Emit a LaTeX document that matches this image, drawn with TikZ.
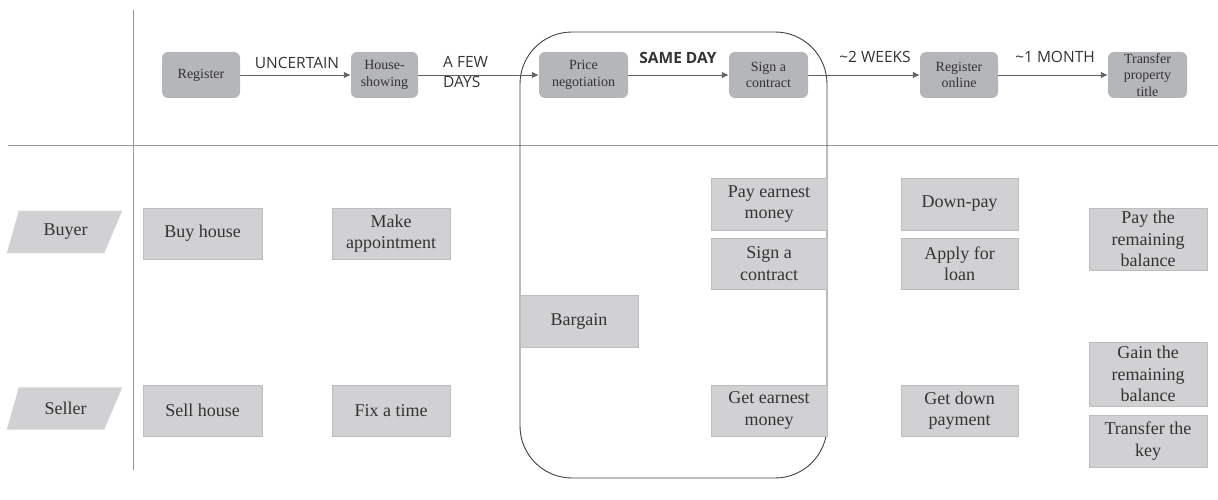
\documentclass[tikz,border=0pt]{standalone}
\usepackage{fontspec}
\setmainfont{Liberation Serif}
\newfontfamily\serifbox{Liberation Serif}
\newfontfamily\lblfont{Open Sans}
\usetikzlibrary{arrows.meta}
\definecolor{topfill}{HTML}{B5B6B9}
\definecolor{lowfill}{HTML}{D1D1D3}
\definecolor{lowline}{HTML}{BDBDBD}
\definecolor{txt}{HTML}{333333}
\definecolor{lineg}{HTML}{606060}
\begin{document}
\begin{tikzpicture}[x=1pt,y=-1pt,
  topbox/.style={fill=topfill, rounded corners=6pt, minimum width=78pt, minimum height=46pt, inner sep=1pt, align=center, text=txt, font=\serifbox\fontsize{14}{16.5}\selectfont},
  lowbox/.style={fill=lowfill, draw=lowline, line width=0.8pt, minimum width=117pt, minimum height=51pt, inner sep=1pt, align=center, text=txt, font=\serifbox\fontsize{18}{21.5}\selectfont},
  lane/.style={minimum width=105pt, minimum height=42pt, inner sep=0pt, text=txt, font=\serifbox\fontsize{18}{20}\selectfont},
  flow/.style={draw=lineg, line width=0.9pt, -{Latex[length=7pt,width=6.5pt]}},
  lbl/.style={text=txt, font=\lblfont\fontsize{15.5}{19.5}\selectfont, inner sep=0pt},
  frame/.style={draw=lineg, line width=0.9pt}]
\useasboundingbox (0,0) rectangle (1218,500);
% frame lines
\coordinate (vt) at (133,10);
\coordinate (vb) at (133,470);
\coordinate (hl) at (8,145);
\coordinate (hr) at (1218,145);
\draw[frame, draw=gray!80] (vt) -- (vb);
\draw[frame, draw=gray!80] (hl) -- (hr);
% same-day enclosure
\draw[frame, draw=black!75, rounded corners=52pt] (520,32) rectangle (827,478);
% top row
\node[topbox] (reg) at (201,75) {Register};
\node[topbox, minimum width=67pt] (show) at (384.5,75) {House-\\showing};
\node[topbox, minimum width=89pt] (price) at (583.5,75) {Price\\negotiation};
\node[topbox, minimum width=79pt] (sign) at (768.5,75) {Sign a\\contract};
\node[topbox] (online) at (959,75) {Register\\online};
\node[topbox, minimum width=79pt] (title) at (1147.5,75) {Transfer\\property\\title};
\draw[flow] (reg) -- (show);
\draw[flow] (show) -- (price);
\draw[flow] (price) -- (sign);
\draw[flow] (sign) -- (online);
\draw[flow] (online) -- (title);
\node[lbl] (l1) at (297,63) {UNCERTAIN};
\node[lbl, align=left, anchor=west] (l2) at (443,72) {A FEW\\DAYS};
\node[lbl, font=\lblfont\bfseries\fontsize{15.5}{19}\selectfont] (l3) at (678,58) {SAME DAY};
\node[lbl] (l4) at (875,57) {\textasciitilde 2 WEEKS};
\node[lbl] (l5) at (1055,57) {\textasciitilde 1 MONTH};
% lanes
\node[lane] (buyer) at (65.5,232) {Buyer};
\node[lane] (seller) at (65.5,408.5) {Seller};
\fill[lowfill] ([xshift=-6pt]buyer.south west) -- ([xshift=-14pt]buyer.south east) -- ([xshift=4pt]buyer.north east) -- ([xshift=6pt]buyer.north west) -- cycle;
\fill[lowfill] ([xshift=-6pt]seller.south west) -- ([xshift=-14pt]seller.south east) -- ([xshift=4pt]seller.north east) -- ([xshift=6pt]seller.north west) -- cycle;
\node[lane] at (buyer) {Buyer};
\node[lane] at (seller) {Seller};
% lower boxes
\node[lowbox, minimum width=119pt] (buy) at (202.5,233.5) {Buy house};
\node[lowbox, minimum width=118pt] (appt) at (391,233.5) {Make\\appointment};
\node[lowbox, minimum width=119pt] (sell) at (202.5,410.5) {Sell house};
\node[lowbox, minimum width=118pt] (fix) at (391,410.5) {Fix a time};
\node[lowbox, minimum width=118pt, minimum height=52pt] (barg) at (579,321) {Bargain};
\node[lowbox, minimum width=116pt, minimum height=52pt] (pay) at (769,204) {Pay earnest\\money};
\node[lowbox, minimum width=116pt] (sgn) at (769,263.5) {Sign a\\contract};
\node[lowbox, minimum width=116pt] (gete) at (769,410.5) {Get earnest\\money};
\node[lowbox, minimum width=117pt, minimum height=52pt] (down) at (959.5,204) {Down-pay};
\node[lowbox, minimum width=117pt] (loan) at (959.5,263.5) {Apply for\\loan};
\node[lowbox, minimum width=117pt] (getd) at (959.5,410.5) {Get down\\payment};
\node[lowbox, minimum width=118pt, minimum height=62pt] (payb) at (1148,239) {Pay the\\remaining\\balance};
\node[lowbox, minimum width=118pt, minimum height=64pt] (gain) at (1148,374) {Gain the\\remaining\\balance};
\node[lowbox, minimum width=118pt, minimum height=52pt] (key) at (1148,441) {Transfer the\\key};
\end{tikzpicture}
\end{document}
